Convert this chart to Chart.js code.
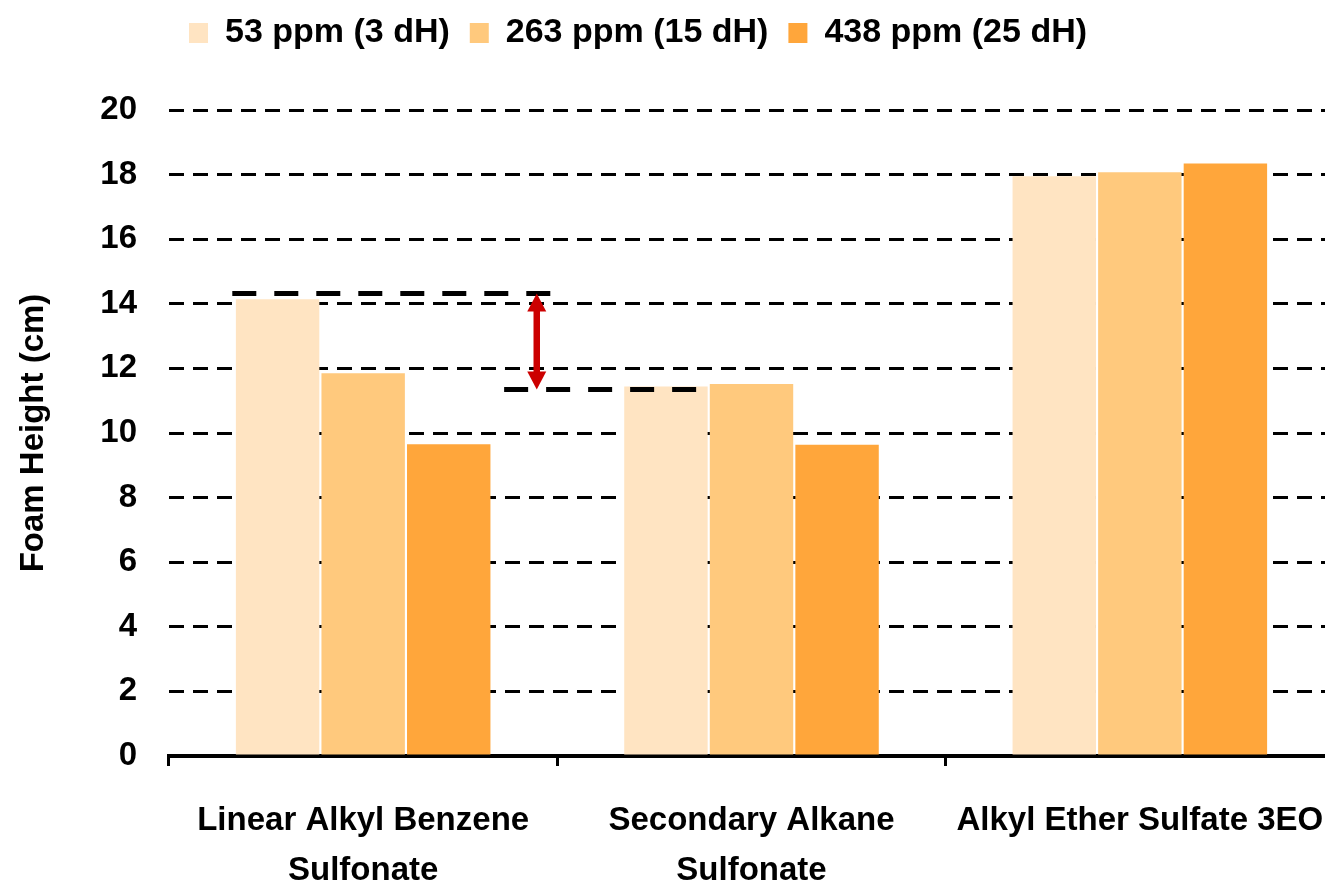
<!DOCTYPE html>
<html>
<head>
<meta charset="utf-8">
<title>Foam Height by Water Hardness</title>
<script src="https://cdn.jsdelivr.net/npm/chart.js@4/dist/chart.umd.min.js"></script>
<style>
  html, body { margin: 0; padding: 0; background: #ffffff; overflow: hidden; }
  #wrap { width: 1340px; height: 884px; }
</style>
</head>
<body>
<div id="wrap"><canvas id="foam" width="1340" height="884"></canvas></div>
<script>
// Surfactant categories (multi-line tick labels)
const categories = [
  ['Linear Alkyl Benzene', 'Sulfonate'],
  ['Secondary Alkane', 'Sulfonate'],
  ['Alkyl Ether Sulfate 3EO']
];

// Water hardness series
const seriesNames = ['53 ppm (3 dH)', '263 ppm (15 dH)', '438 ppm (25 dH)'];
const foam53 = [14.14, 11.44, 17.95];
const foam263 = [11.85, 11.52, 18.07];
const foam438 = [9.65, 9.64, 18.34];

// Y axis range and step
const yMin = 0;
const yMax = 20;
const yStep = 2;

// Reference levels marking the drop between the first two surfactants
const dropTop = 14.32;
const dropBottom = 11.35;

const FONT = "'Liberation Sans', Arial, Helvetica, sans-serif";
const colors = ['#FFE4C2', '#FFC97D', '#FFA63B'];

// Dashed reference lines with a double-headed arrow between them
const dropMarker = {
  id: 'dropMarker',
  afterDatasetsDraw(chart) {
    const { ctx, scales: { x, y } } = chart;
    const lines = [
      { value: dropTop, from: x.getPixelForValue(-0.337), to: x.getPixelForValue(0.483) },
      { value: dropBottom, from: x.getPixelForValue(0.363), to: x.getPixelForValue(0.859) }
    ];
    ctx.save();
    ctx.strokeStyle = '#000000';
    ctx.lineWidth = 5;
    ctx.lineCap = 'butt';
    ctx.setLineDash([24, 18]);
    lines.forEach(l => {
      const py = y.getPixelForValue(l.value);
      ctx.beginPath();
      ctx.moveTo(l.from, py);
      ctx.lineTo(l.to, py);
      ctx.stroke();
    });
    ctx.setLineDash([]);

    const ax = x.getPixelForValue(0.447);
    const yTop = y.getPixelForValue(dropTop);
    const yBot = y.getPixelForValue(dropBottom);
    const head = 18, half = 9.5;
    ctx.fillStyle = '#CC0000';
    ctx.strokeStyle = '#CC0000';
    ctx.lineWidth = 6.5;
    ctx.beginPath();
    ctx.moveTo(ax, yTop + head - 1);
    ctx.lineTo(ax, yBot - head + 1);
    ctx.stroke();
    ctx.beginPath();
    ctx.moveTo(ax, yTop);
    ctx.lineTo(ax - half, yTop + head);
    ctx.lineTo(ax + half, yTop + head);
    ctx.closePath();
    ctx.fill();
    ctx.beginPath();
    ctx.moveTo(ax, yBot);
    ctx.lineTo(ax - half, yBot - head);
    ctx.lineTo(ax + half, yBot - head);
    ctx.closePath();
    ctx.fill();
    ctx.restore();
  }
};

// Nudge the legend row to its place above the plot
const legendPlacement = {
  id: 'legendPlacement',
  afterLayout(chart) {
    const lg = chart.legend;
    if (!lg) return;
    const dx = -29, dy = -50;
    lg.left += dx; lg.right += dx;
    lg.top += dy; lg.bottom += dy;
  }
};

new Chart(document.getElementById('foam'), {
  type: 'bar',
  data: {
    labels: categories,
    datasets: [
      { label: seriesNames[0], data: foam53, backgroundColor: colors[0], borderWidth: 0 },
      { label: seriesNames[1], data: foam263, backgroundColor: colors[1], borderWidth: 0 },
      { label: seriesNames[2], data: foam438, backgroundColor: colors[2], borderWidth: 0 }
    ]
  },
  options: {
    responsive: false,
    devicePixelRatio: 1,
    animation: false,
    categoryPercentage: 0.661,
    barPercentage: 0.975,
    layout: { padding: { top: 46, right: 6, bottom: 0, left: 0 } },
    plugins: {
      legend: {
        position: 'top',
        labels: {
          color: '#000000',
          font: { family: FONT, size: 34, weight: 'bold' },
          boxWidth: 19,
          boxHeight: 20,
          padding: 20
        }
      },
      tooltip: { enabled: false }
    },
    scales: {
      x: {
        offset: true,
        grid: {
          display: true,
          offset: true,
          drawOnChartArea: false,
          drawTicks: true,
          tickLength: 10,
          tickWidth: 3,
          tickColor: '#000000',
          color: '#000000'
        },
        border: { display: true, color: '#000000', width: 4 },
        ticks: {
          color: '#000000',
          font: { family: FONT, size: 33, weight: 'bold', lineHeight: 1.52 },
          padding: 30,
          maxRotation: 0,
          autoSkip: false
        },
        afterFit(scale) {
          scale.height = 128;
          scale.paddingLeft = 0;
          scale.paddingRight = 0;
        }
      },
      y: {
        min: yMin,
        max: yMax,
        grid: {
          color: ctx => (ctx.tick && ctx.tick.value === 0 ? 'rgba(0,0,0,0)' : '#000000'),
          lineWidth: 3,
          drawTicks: false
        },
        border: { display: false, dash: [15, 9] },
        ticks: {
          stepSize: yStep,
          color: '#000000',
          font: { family: FONT, size: 33, weight: 'bold' },
          padding: 32
        },
        title: {
          display: true,
          text: 'Foam Height (cm)',
          color: '#000000',
          font: { family: FONT, size: 33, weight: 'bold' },
          padding: { top: 14, bottom: 0 }
        },
        afterFit(scale) { scale.width = 169; }
      }
    }
  },
  plugins: [dropMarker, legendPlacement]
});
</script>
</body>
</html>
